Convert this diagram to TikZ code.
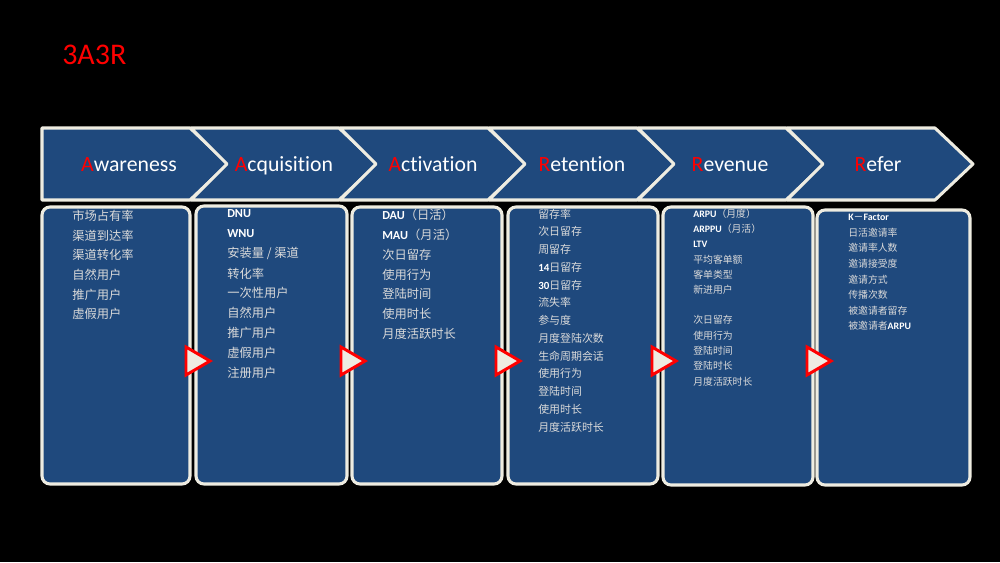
\documentclass[tikz,border=0pt]{standalone}
\usepackage{fontspec}
\setmainfont{Carlito}[Ligatures=NoCommon]
\newfontfamily\cjk{Noto Sans CJK SC}
\definecolor{navy}{RGB}{31,73,125}
\definecolor{rim}{RGB}{238,236,225}
\definecolor{ink}{RGB}{218,218,218}
\newcommand\lat[1]{{\normalfont\bfseries\color{white}#1}}
\begin{document}
\begin{tikzpicture}[x=0.75pt,y=-0.75pt,
  chev/.style={fill=navy,draw=rim,line width=2.3pt,line join=round},
  box/.style={fill=navy,draw=rim,line width=2.3pt,rounded corners=6pt},
  tri/.style={fill=rim,draw=red,line width=2.2pt,line join=miter},
  chevlab/.style={text=white,inner sep=0,anchor=base,font=\fontsize{16.3}{19}\selectfont},
  itemA/.style={anchor=west,inner sep=0,text=ink,font=\cjk\fontsize{9.2}{11}\selectfont},
  itemB/.style={anchor=west,inner sep=0,text=ink,font=\cjk\fontsize{8.2}{10}\selectfont},
  itemC/.style={anchor=west,inner sep=0,text=ink,font=\cjk\fontsize{7.4}{9}\selectfont}]
\fill[black] (0,0) rectangle (1000,562);
\useasboundingbox (0,0) rectangle (1000,562);
\node[text=red,anchor=west,inner sep=0,font=\fontsize{22.5}{26}\selectfont] (title) at (62,55) {3A3R};
% chevrons
\draw[chev] (42,128) -- (190,128) -- (228,164) -- (190,200) -- (42,200) -- cycle;
\foreach \i in {1,...,5}{
  \pgfmathsetmacro\o{149*\i}
  \draw[chev] (42+\o,128) -- (190+\o,128) -- (228+\o,164) -- (190+\o,200) -- (42+\o,200) -- (78+\o,164) -- cycle;
}
\node[chevlab] (h1) at (129,171) {{\color{red}A}wareness};
\node[chevlab] (h2) at (284,171) {{\color{red}A}cquisition};
\node[chevlab] (h3) at (433,171) {{\color{red}A}ctivation};
\node[chevlab] (h4) at (582,171) {{\color{red}R}etention};
\node[chevlab] (h5) at (730,171) {{\color{red}R}evenue};
\node[chevlab] (h6) at (878,171) {{\color{red}R}efer};
% boxes
\draw[box] (42,207) rectangle (190,484);
\draw[box] (196,206) rectangle (347,484);
\draw[box] (352,207) rectangle (502,484);
\draw[box] (508,207) rectangle (658,484);
\draw[box] (663,207) rectangle (813,485);
\draw[box] (817,210) rectangle (970,485);
% triangles
\foreach \x in {186,341,496,652,807}{
  \draw[tri] (\x,347) -- (\x+24,361) -- (\x,375) -- cycle;
}
% column 1
\foreach \t [count=\k from 0] in {市场占有率,渠道到达率,渠道转化率,自然用户,推广用户,虚假用户}
  \node[itemA] (a\k) at (72,216+19.6*\k) {\t};
% column 2
\foreach \t [count=\k from 0] in {{\lat{DNU}},{\lat{WNU}},安装量 / 渠道,转化率,一次性用户,自然用户,推广用户,虚假用户,注册用户}
  \node[itemA] (b\k) at (227,214+19.8*\k) {\t};
% column 3
\foreach \t [count=\k from 0] in {{\lat{DAU}（日活）},{\lat{MAU}（月活）},次日留存,使用行为,登陆时间,使用时长,月度活跃时长}
  \node[itemA] (c\k) at (382,215+19.8*\k) {\t};
% column 4
\foreach \t [count=\k from 0] in {留存率,次日留存,周留存,{\lat{14}日留存},{\lat{30}日留存},流失率,参与度,月度登陆次数,生命周期会话,使用行为,登陆时间,使用时长,月度活跃时长}
  \node[itemB] (d\k) at (538,214+17.75*\k) {\t};
% column 5
\foreach \t [count=\k from 0] in {{\lat{ARPU}（月度）},{\lat{ARPPU}（月活）},{\lat{LTV}},平均客单额,客单类型,新进用户}
  \node[itemC] (e\k) at (693,214+15.2*\k) {\t};
\foreach \t [count=\k from 0] in {次日留存,使用行为,登陆时间,登陆时长,月度活跃时长}
  \node[itemC] (f\k) at (693,320+15.4*\k) {\t};
% column 6
\foreach \t [count=\k from 0] in {{\lat{K}{\color{white}－}\lat{Factor}},日活邀请率,邀请率人数,邀请接受度,邀请方式,传播次数,被邀请者留存,{被邀请者\lat{ARPU}}}
  \node[itemC] (g\k) at (848,217+15.6*\k) {\t};
\end{tikzpicture}
\end{document}
